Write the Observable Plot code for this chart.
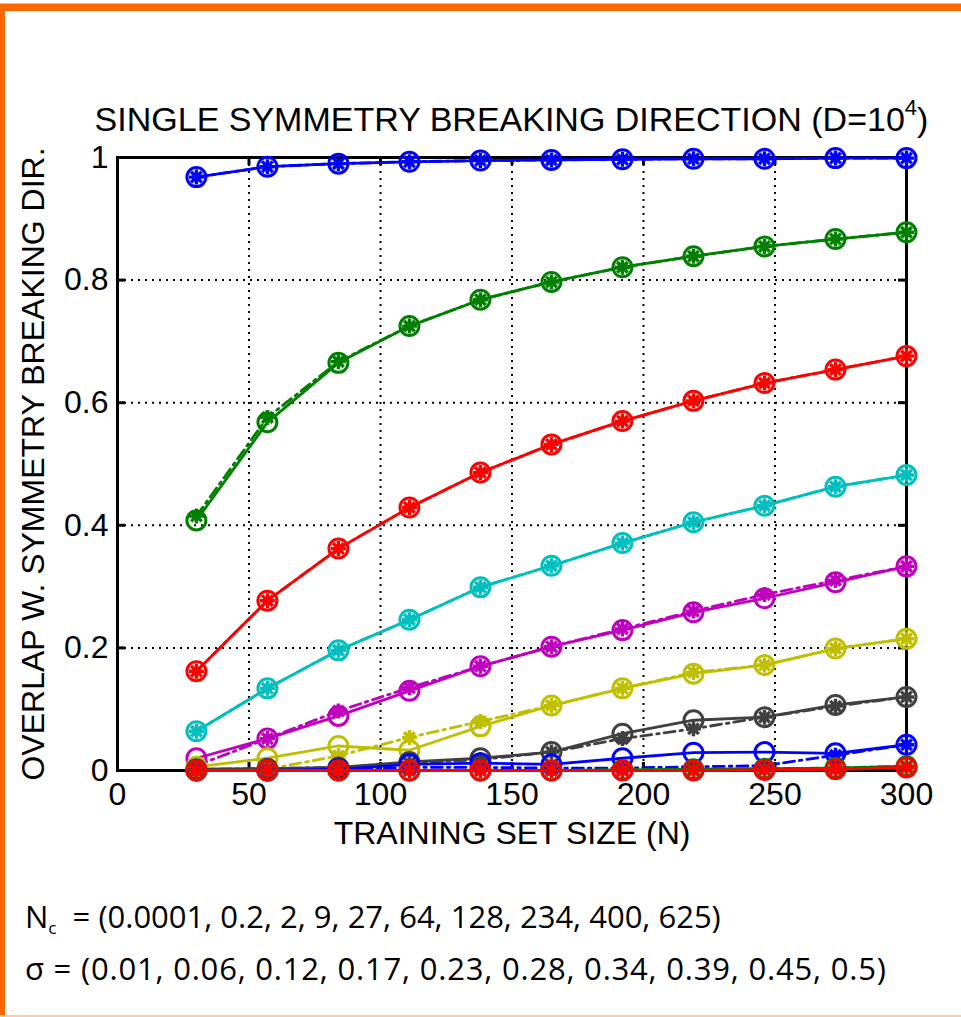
<!DOCTYPE html>
<html>
<head>
<meta charset="utf-8">
<script src="https://cdn.jsdelivr.net/npm/d3@7"></script>
<script src="https://cdn.jsdelivr.net/npm/@observablehq/plot@0.6"></script>
<style>
  body { margin: 0; background: #fff; }
  #page { position: relative; width: 961px; height: 1017px; background: #fff; overflow: hidden; }
  .band { position: absolute; }
  #title { position: absolute; left: 0; top: 99px; width: 1023px; text-align: center;
           font-family: "Liberation Sans", Arial, sans-serif; font-size: 34px; color: #000; white-space: nowrap; }
  #title sup { font-size: 22px; position: relative; top: -4px; }
  #caption { position: absolute; left: 25px; top: 893px; font-family: "Open Sans", sans-serif;
             font-size: 31px; line-height: 47px; color: #000; white-space: nowrap; }
  #caption sub { font-size: 17px; vertical-align: baseline; position: relative; top: 6px; }
</style>
</head>
<body>
<div id="page">
  <div class="band" style="left:0;top:3px;width:961px;height:1px;background:#FFB37F"></div>
  <div class="band" style="left:0;top:4px;width:961px;height:7px;background:#FF6600"></div>
  <div class="band" style="left:0;top:4px;width:5px;height:1012px;background:#FF6600"></div>
  <div class="band" style="left:0;top:1015px;width:961px;height:2px;background:#FFC9A3"></div>
  <div id="chart" style="position:absolute;left:0;top:0"></div>
  <div id="title">SINGLE SYMMETRY BREAKING DIRECTION (D=10<sup>4</sup>)</div>
  <div id="caption">
    <div>N<sub>c</sub>&nbsp;&nbsp;= (0.0001, 0.2, 2, 9, 27, 64, 128, 234, 400, 625)</div>
    <div style="letter-spacing:0.8px">σ&nbsp;=&nbsp;(0.01, 0.06, 0.12, 0.17, 0.23, 0.28, 0.34, 0.39, 0.45, 0.5)</div>
  </div>
</div>
<script>
// ---- data ----
const trainingSizes = [30, 57, 84, 111, 138, 165, 192, 219, 246, 273, 300];

const seriesNames = ["Nc=0.0001", "Nc=0.2", "Nc=2", "Nc=9", "Nc=27", "Nc=64", "Nc=128", "Nc=234", "Nc=400", "Nc=625"];
const seriesColors = ["#0000FF", "#008000", "#FF0000", "#00BFBF", "#BF00BF", "#BFBF00", "#404040", "#0000FF", "#008000", "#FF0000"];

// solid line, open-circle markers
const solidValues = [
  [0.968, 0.985, 0.990, 0.993, 0.995, 0.996, 0.997, 0.998, 0.998, 0.999, 0.999],
  [0.408, 0.568, 0.665, 0.725, 0.768, 0.797, 0.821, 0.839, 0.855, 0.867, 0.878],
  [0.162, 0.277, 0.362, 0.429, 0.486, 0.532, 0.570, 0.603, 0.632, 0.654, 0.676],
  [0.064, 0.134, 0.196, 0.246, 0.299, 0.334, 0.371, 0.405, 0.432, 0.463, 0.482],
  [0.020, 0.052, 0.089, 0.130, 0.170, 0.202, 0.229, 0.258, 0.281, 0.307, 0.333],
  [0.006, 0.020, 0.040, 0.033, 0.072, 0.106, 0.134, 0.158, 0.172, 0.199, 0.215],
  [0.002, 0.003, 0.005, 0.014, 0.020, 0.030, 0.060, 0.082, 0.087, 0.107, 0.120],
  [0.000, 0.000, 0.002, 0.010, 0.012, 0.010, 0.020, 0.029, 0.030, 0.028, 0.042],
  [0.000, 0.000, 0.000, 0.000, 0.000, 0.000, 0.001, 0.002, 0.003, 0.004, 0.007],
  [0.000, 0.000, 0.000, 0.000, 0.000, 0.000, 0.000, 0.000, 0.001, 0.002, 0.005]
];

// dash-dot line, asterisk markers
const dashValues = [
  [0.968, 0.985, 0.990, 0.993, 0.995, 0.996, 0.997, 0.998, 0.998, 0.999, 0.999],
  [0.415, 0.576, 0.667, 0.725, 0.768, 0.797, 0.821, 0.839, 0.855, 0.867, 0.878],
  [0.162, 0.277, 0.362, 0.429, 0.486, 0.532, 0.570, 0.603, 0.632, 0.654, 0.676],
  [0.064, 0.134, 0.196, 0.246, 0.299, 0.334, 0.371, 0.405, 0.432, 0.463, 0.482],
  [0.008, 0.052, 0.097, 0.135, 0.170, 0.202, 0.231, 0.260, 0.287, 0.310, 0.333],
  [0.000, 0.002, 0.024, 0.054, 0.080, 0.106, 0.134, 0.160, 0.172, 0.199, 0.215],
  [0.002, 0.003, 0.005, 0.012, 0.018, 0.030, 0.052, 0.068, 0.087, 0.105, 0.120],
  [0.000, 0.000, 0.000, 0.005, 0.005, 0.004, 0.004, 0.006, 0.008, 0.025, 0.042],
  [0.000, 0.000, 0.000, 0.000, 0.000, 0.000, 0.001, 0.002, 0.003, 0.004, 0.007],
  [0.000, 0.000, 0.000, 0.000, 0.000, 0.000, 0.000, 0.000, 0.001, 0.002, 0.005]
];

const xTicks = [0, 50, 100, 150, 200, 250, 300];
const yTicks = [0, 0.2, 0.4, 0.6, 0.8, 1];
const xGrid = [50, 100, 150, 200, 250];
const yGrid = [0.2, 0.4, 0.6, 0.8];

// ---- build ----
const toRows = (vals) => trainingSizes.map((x, j) => ({x, y: vals[j]}));

const star8 = {
  draw(context, size) {
    const r = Math.sqrt(size / Math.PI);
    const d = r * Math.SQRT1_2;
    context.moveTo(0, -r); context.lineTo(0, r);
    context.moveTo(-r, 0); context.lineTo(r, 0);
    context.moveTo(-d, -d); context.lineTo(d, d);
    context.moveTo(-d, d); context.lineTo(d, -d);
  }
};

const W = 961, H = 860, ML = 117, MR = 55, MT = 157, MB = 90;
const innerW = W - ML - MR, innerH = H - MT - MB;
const tickLen = 8;

const seriesMarks = seriesNames.flatMap((name, i) => {
  const c = seriesColors[i];
  const solid = toRows(solidValues[i]);
  const dash = toRows(dashValues[i]);
  return [
    Plot.line(dash, {x: "x", y: "y", stroke: c, strokeWidth: 2.8, strokeDasharray: "11,5,2.5,5"}),
    Plot.line(solid, {x: "x", y: "y", stroke: c, strokeWidth: 2.8}),
    Plot.dot(solid, {x: "x", y: "y", r: 9.5, stroke: c, strokeWidth: 3, fill: "none"}),
    Plot.dot(dash, {x: "x", y: "y", r: 7.5, symbol: star8, stroke: c, strokeWidth: 3.4, fill: "none"})
  ];
});

const chart = Plot.plot({
  width: W, height: H,
  marginLeft: ML, marginRight: MR, marginTop: MT, marginBottom: MB,
  style: {fontFamily: "'Liberation Sans', Arial, sans-serif", fontSize: "32px", color: "#000", background: "transparent", overflow: "visible"},
  x: {domain: [0, 300]},
  y: {domain: [0, 1]},
  marks: [
    Plot.gridX(xGrid, {stroke: "#000", strokeOpacity: 1, strokeWidth: 2, strokeDasharray: "2,5"}),
    Plot.gridY(yGrid, {stroke: "#000", strokeOpacity: 1, strokeWidth: 2, strokeDasharray: "2,5"}),
    Plot.frame({stroke: "#000", strokeWidth: 3}),
    Plot.tickY(yGrid, {y: d => d, stroke: "#000", strokeWidth: 3, insetRight: innerW - tickLen}),
    Plot.tickY(yGrid, {y: d => d, stroke: "#000", strokeWidth: 3, insetLeft: innerW - tickLen}),
    Plot.tickX(xGrid, {x: d => d, stroke: "#000", strokeWidth: 3, insetBottom: innerH - tickLen}),
    Plot.tickX(xGrid, {x: d => d, stroke: "#000", strokeWidth: 3, insetTop: innerH - tickLen}),
    ...seriesMarks,
    Plot.axisX({ticks: xTicks, tickSize: 0, tickPadding: 12, fontSize: 32,
      label: "TRAINING SET SIZE (N)", labelAnchor: "center", labelArrow: "none", labelOffset: 73}),
    Plot.axisY({ticks: yTicks, tickSize: 0, tickPadding: 9, fontSize: 32, tickFormat: d => String(d),
      label: "OVERLAP W. SYMMETRY BREAKING DIR.", labelAnchor: "center", labelArrow: "none", labelOffset: 96})
  ]
});
document.getElementById("chart").appendChild(chart);
</script>
</body>
</html>
